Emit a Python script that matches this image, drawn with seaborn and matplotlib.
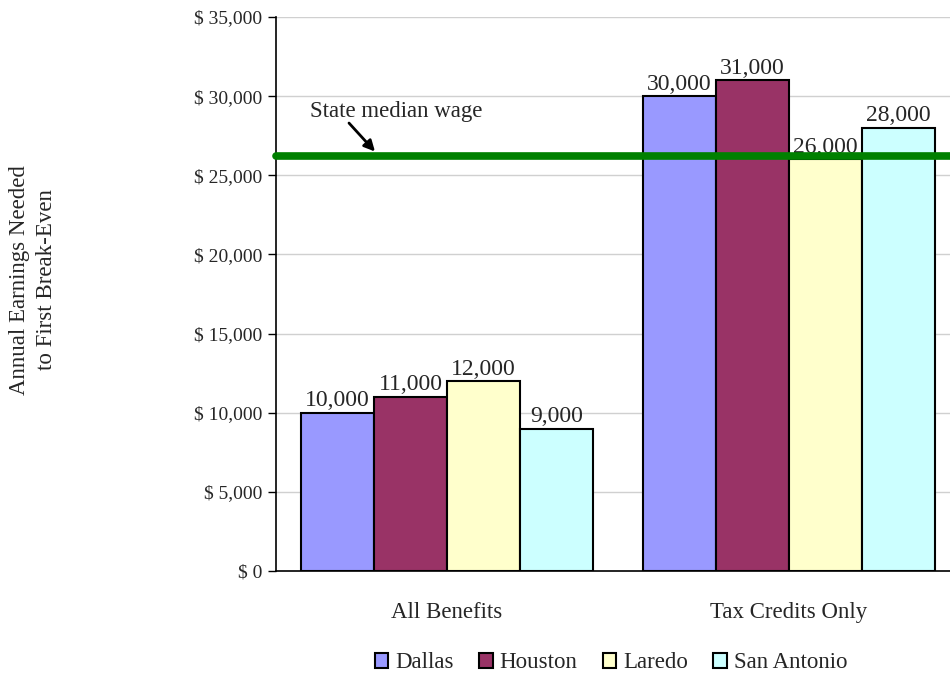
import numpy as np
import pandas as pd
import matplotlib
matplotlib.use("Agg")
import matplotlib.pyplot as plt
import seaborn as sns

scenarios = ["All Benefits", "Tax Credits Only"]
cities = ["Dallas", "Houston", "Laredo", "San Antonio"]
all_benefits = [10000, 11000, 12000, 9000]
tax_credits_only = [30000, 31000, 26000, 28000]
city_colors = ["#9999FF", "#993366", "#FFFFCC", "#CCFFFF"]
median_wage = 26200
y_ticks = [0, 5000, 10000, 15000, 20000, 25000, 30000, 35000]

rows = []
for scen, vals in zip(scenarios, [all_benefits, tax_credits_only]):
    for city, v in zip(cities, vals):
        rows.append({"Scenario": scen, "City": city, "Earnings": v})
df = pd.DataFrame(rows)

sns.set_style("white")
plt.rcParams["font.family"] = ["Liberation Serif", "DejaVu Serif"]

fig = plt.figure(figsize=(9.5, 6.77), dpi=100)
ax = fig.add_axes([0.2905, 0.1566, 0.72, 0.8183])

sns.barplot(data=df, x="Scenario", y="Earnings", hue="City",
            palette=city_colors, width=0.854, edgecolor="black",
            linewidth=1.5, saturation=1, ax=ax, legend=False, zorder=3)

for cont in ax.containers:
    ax.bar_label(cont, labels=[f"{v:,.0f}" for v in cont.datavalues],
                 padding=1, fontsize=17)

ax.axhline(median_wage, color="#008000", linewidth=5.5, zorder=4, clip_on=False)

ax.set_xlim(-0.5, 1.5)
ax.set_ylim(0, 35000)
ax.set_yticks(y_ticks)
ax.set_yticklabels([f"$ {v:,}" for v in y_ticks], fontsize=14)
ax.yaxis.grid(True, color="#d0d0d0", linewidth=1, zorder=0)
ax.set_axisbelow(True)

ax.set_xticks([0, 1])
ax.set_xticklabels(scenarios, fontsize=16.5)
ax.set_xticks([-0.5, 0.5, 1.5], minor=True)
ax.tick_params(axis="x", which="major", length=0, pad=22)
ax.tick_params(axis="x", which="minor", length=6, width=1, direction="out", color="black")
ax.tick_params(axis="y", length=6, width=1, direction="out", color="black", left=True, pad=4)

for side in ["top", "right"]:
    ax.spines[side].set_visible(False)
for side in ["left", "bottom"]:
    ax.spines[side].set_color("black")
    ax.spines[side].set_linewidth(1.2)

ax.set_xlabel("")
ax.set_ylabel("")
fig.text(33 / 950, 1 - 280 / 677, "Annual Earnings Needed\nto First Break-Even",
         rotation=90, ha="center", va="center", fontsize=16.5, linespacing=1.4)

ax.text(-0.4006, 29000, "State median wage", fontsize=16.5, va="center", ha="left")
ax.annotate("", xy=(-0.2105, 26500), xytext=(-0.2865, 28300),
            arrowprops=dict(arrowstyle="-|>", color="black", lw=2,
                            mutation_scale=16, shrinkA=0, shrinkB=0))

handles = [plt.Rectangle((0, 0), 1, 1, facecolor=c, edgecolor="black", linewidth=1.5)
           for c in city_colors]
fig.legend(handles, cities, loc="center", bbox_to_anchor=(611 / 950, 1 - 663 / 677),
           ncol=4, frameon=False, fontsize=16.5, handlelength=0.6, handleheight=0.6,
           handletextpad=0.3, columnspacing=1.1)

fig.savefig("out.png", dpi=100)
